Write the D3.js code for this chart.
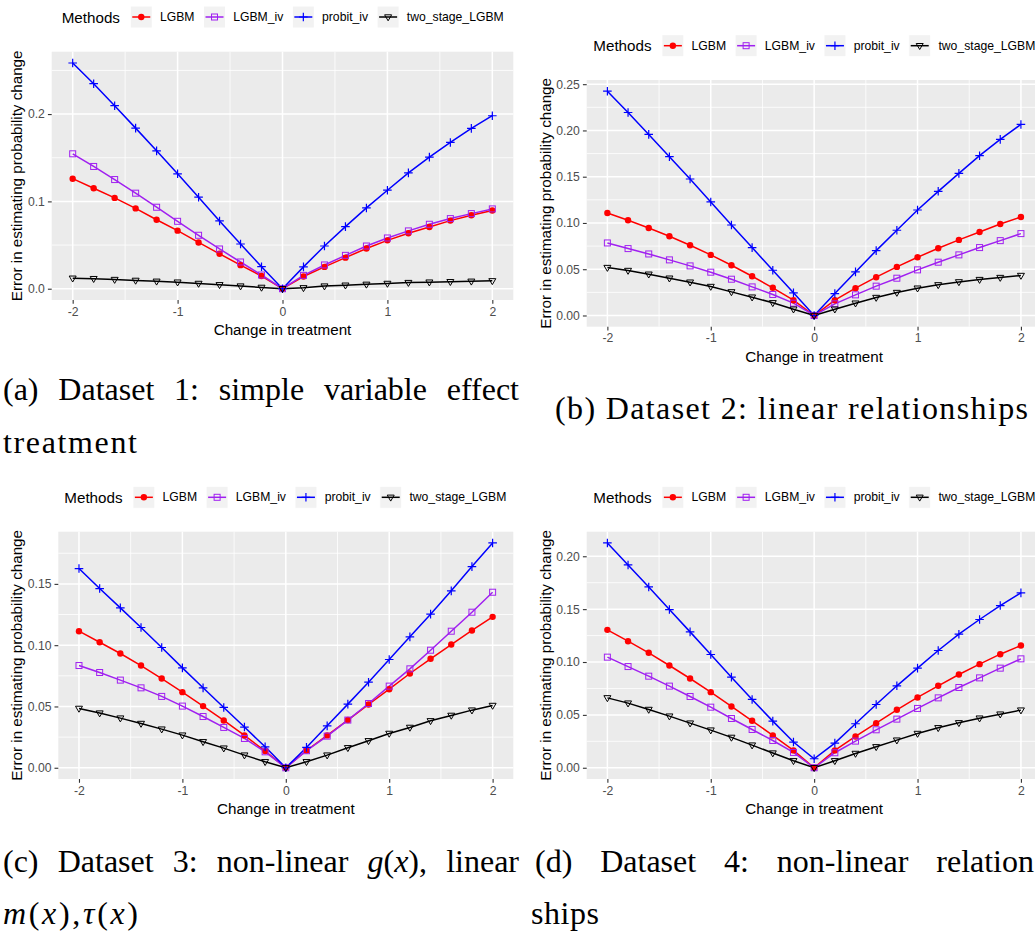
<!DOCTYPE html>
<html>
<head>
<meta charset="utf-8">
<script src="https://cdn.jsdelivr.net/npm/d3@7"></script>
<style>
	body { margin: 0; background: #fff; }
</style>
</head>
<body>
<svg id="fig" width="1035" height="939"></svg>
<script>
// change in treatment (x axis), shared by all four panels
const treatment = [-2, -1.8, -1.6, -1.4, -1.2, -1, -0.8, -0.6, -0.4, -0.2, 0, 0.2, 0.4, 0.6, 0.8, 1, 1.2, 1.4, 1.6, 1.8, 2];
const methods = ["LGBM", "LGBM_iv", "probit_iv", "two_stage_LGBM"];

// Dataset 1
const d1_LGBM = [0.126, 0.115, 0.104, 0.092, 0.079, 0.0665, 0.053, 0.040, 0.027, 0.0145, 0, 0.014, 0.025, 0.0356, 0.046, 0.0554, 0.0635, 0.0707, 0.078, 0.0841, 0.0895];
const d1_LGBM_iv = [0.1545, 0.140, 0.125, 0.1094, 0.0933, 0.0772, 0.0612, 0.0455, 0.0306, 0.0157, 0, 0.0153, 0.0272, 0.0382, 0.0489, 0.0581, 0.0662, 0.0738, 0.0803, 0.086, 0.0914];
const d1_probit_iv = [0.2585, 0.2348, 0.2096, 0.1839, 0.1579, 0.1316, 0.1048, 0.0776, 0.0512, 0.0252, 0, 0.025, 0.0489, 0.0711, 0.0925, 0.1128, 0.1327, 0.1507, 0.1675, 0.1836, 0.1981];
const d1_two_stage = [0.012, 0.0115, 0.0105, 0.0095, 0.0085, 0.0075, 0.006, 0.0045, 0.003, 0.0015, 0, 0.001, 0.003, 0.004, 0.005, 0.006, 0.007, 0.0075, 0.008, 0.0085, 0.009];

// Dataset 2
const d2_LGBM = [0.1108, 0.1029, 0.0946, 0.0856, 0.0759, 0.0655, 0.0543, 0.0424, 0.0299, 0.0165, 0, 0.0165, 0.0295, 0.0414, 0.0525, 0.0629, 0.0727, 0.0817, 0.0903, 0.0989, 0.1065];
const d2_LGBM_iv = [0.0784, 0.0723, 0.0665, 0.0601, 0.0536, 0.0468, 0.0392, 0.0309, 0.0227, 0.0133, 0, 0.0126, 0.0223, 0.0317, 0.0403, 0.0493, 0.0576, 0.0655, 0.0734, 0.0809, 0.0885];
const d2_probit_iv = [0.2424, 0.2194, 0.1957, 0.1716, 0.1475, 0.1227, 0.0978, 0.0734, 0.0489, 0.0245, 0, 0.0237, 0.0471, 0.0701, 0.0921, 0.114, 0.1342, 0.1536, 0.1727, 0.1903, 0.2065];
const d2_two_stage = [0.0518, 0.0486, 0.0446, 0.0403, 0.036, 0.0313, 0.0255, 0.0198, 0.0137, 0.0068, 0, 0.0068, 0.0133, 0.0194, 0.0248, 0.0295, 0.0331, 0.0363, 0.0388, 0.041, 0.0432];

// Dataset 3
const d3_LGBM = [0.1114, 0.1024, 0.0932, 0.0834, 0.0728, 0.0617, 0.0503, 0.0386, 0.0264, 0.0136, 0, 0.0141, 0.0264, 0.0389, 0.0516, 0.0641, 0.0769, 0.0889, 0.1005, 0.112, 0.1231];
const d3_LGBM_iv = [0.0834, 0.0777, 0.0715, 0.0652, 0.0582, 0.0503, 0.0418, 0.0329, 0.0239, 0.013, 0, 0.0139, 0.0258, 0.0389, 0.0524, 0.0666, 0.0807, 0.0959, 0.1114, 0.1269, 0.1432];
const d3_probit_iv = [0.1625, 0.1462, 0.1304, 0.1144, 0.0981, 0.0815, 0.0652, 0.0492, 0.0332, 0.0171, 0, 0.0166, 0.0342, 0.0519, 0.0698, 0.0883, 0.1068, 0.1253, 0.1443, 0.1641, 0.1834];
const d3_two_stage = [0.0484, 0.0446, 0.0405, 0.0361, 0.0315, 0.0266, 0.0212, 0.016, 0.0103, 0.0049, 0, 0.0049, 0.0103, 0.0163, 0.022, 0.028, 0.0329, 0.0383, 0.0427, 0.047, 0.0508];

// Dataset 4
const d4_LGBM = [0.1304, 0.1197, 0.1087, 0.0967, 0.0844, 0.0715, 0.058, 0.0444, 0.0306, 0.0164, 0, 0.0164, 0.0296, 0.0422, 0.0548, 0.0665, 0.0775, 0.0882, 0.098, 0.1074, 0.1156];
const d4_LGBM_iv = [0.1046, 0.0957, 0.0866, 0.0772, 0.0674, 0.0573, 0.0466, 0.0362, 0.0258, 0.0145, 0, 0.0142, 0.0252, 0.0359, 0.046, 0.0561, 0.0661, 0.0759, 0.085, 0.0942, 0.103];
const d4_probit_iv = [0.2126, 0.1918, 0.171, 0.1496, 0.1285, 0.1071, 0.0857, 0.0646, 0.0441, 0.0243, 0.0085, 0.0233, 0.0416, 0.0598, 0.0775, 0.0942, 0.1109, 0.1263, 0.1402, 0.1534, 0.1654];
const d4_two_stage = [0.0661, 0.0611, 0.0551, 0.0488, 0.0422, 0.0356, 0.0287, 0.0214, 0.0139, 0.0066, 0, 0.0066, 0.0135, 0.0198, 0.0261, 0.0324, 0.0378, 0.0425, 0.0469, 0.0507, 0.0545];

const xTicks = [-2, -1, 0, 1, 2];
const yTicks1 = [0, 0.1, 0.2];
const yTicks2 = [0, 0.05, 0.10, 0.15, 0.20, 0.25];
const yTicks3 = [0, 0.05, 0.10, 0.15];
const yTicks4 = [0, 0.05, 0.10, 0.15, 0.20];

const colors = { "LGBM": "#FF0000", "LGBM_iv": "#A020F0", "probit_iv": "#0000FF", "two_stage_LGBM": "#000000" };

const sansFont = "'Liberation Sans', Arial, sans-serif";
const serifFont = "'Liberation Serif', 'Times New Roman', serif";

const panels = [
	{ series: [d1_LGBM, d1_LGBM_iv, d1_probit_iv, d1_two_stage], yTicks: yTicks1, fmt: ".1f",
		left: 51.7, right: 513.3, top: 51.7, bottom: 300, yTitleX: 16, legendX: 61.7, legendY: 17, xLabY: 312, xTitleY: 329 },
	{ series: [d2_LGBM, d2_LGBM_iv, d2_probit_iv, d2_two_stage], yTicks: yTicks2, fmt: ".2f",
		left: 586.7, right: 1041.6, top: 80, bottom: 326.7, yTitleX: 545, legendX: 593.3, legendY: 45.7, xLabY: 338, xTitleY: 356 },
	{ series: [d3_LGBM, d3_LGBM_iv, d3_probit_iv, d3_two_stage], yTicks: yTicks3, fmt: ".2f",
		left: 58.3, right: 513.3, top: 531.7, bottom: 779, yTitleX: 16, legendX: 64.3, legendY: 497.3, xLabY: 790.7, xTitleY: 808 },
	{ series: [d4_LGBM, d4_LGBM_iv, d4_probit_iv, d4_two_stage], yTicks: yTicks4, fmt: ".2f",
		left: 586.7, right: 1041.6, top: 531.7, bottom: 779, yTitleX: 545, legendX: 593.3, legendY: 497.3, xLabY: 790.7, xTitleY: 808 }
];

const svg = d3.select("#fig");

function drawMarker(sel, method) {
	const c = colors[method];
	if (method === "LGBM") {
		sel.append("circle").attr("r", 3.2).attr("fill", c);
	} else if (method === "LGBM_iv") {
		sel.append("rect").attr("x", -3).attr("y", -3).attr("width", 6).attr("height", 6)
			.attr("fill", "none").attr("stroke", c).attr("stroke-width", 1);
	} else if (method === "probit_iv") {
		sel.append("path").attr("d", "M-4.3,0H4.3M0,-4.3V4.3")
			.attr("stroke", c).attr("stroke-width", 1.2);
	} else {
		sel.append("path").attr("d", "M-3.5,-2.2L3.5,-2.2L0,3.8Z")
			.attr("fill", "none").attr("stroke", c).attr("stroke-width", 1);
	}
}

panels.forEach(p => {
	const allVals = p.series.flat();
	const ymin = d3.min(allVals), ymax = d3.max(allVals);
	const pad = (ymax - ymin) * 0.05;

	const x = d3.scaleLinear().domain([-2.2, 2.2]).range([p.left, p.right]);
	const y = d3.scaleLinear().domain([ymin - pad, ymax + pad]).range([p.bottom, p.top]);

	const g = svg.append("g").style("font-family", sansFont);

	// panel background
	g.append("rect")
		.attr("x", p.left).attr("y", p.top)
		.attr("width", p.right - p.left).attr("height", p.bottom - p.top)
		.attr("fill", "#EBEBEB");

	// minor grid
	const yStep = p.yTicks[1] - p.yTicks[0];
	const yMinor = [p.yTicks[0] - yStep / 2].concat(p.yTicks.map(t => t + yStep / 2))
		.filter(v => v > y.domain()[0] && v < y.domain()[1]);
	const xMinor = [-1.5, -0.5, 0.5, 1.5];

	g.selectAll(".ymin").data(yMinor).enter().append("line")
		.attr("x1", p.left).attr("x2", p.right)
		.attr("y1", d => y(d)).attr("y2", d => y(d))
		.attr("stroke", "#fff").attr("stroke-width", 0.8);
	g.selectAll(".xmin").data(xMinor).enter().append("line")
		.attr("y1", p.top).attr("y2", p.bottom)
		.attr("x1", d => x(d)).attr("x2", d => x(d))
		.attr("stroke", "#fff").attr("stroke-width", 0.8);

	// major grid
	g.selectAll(".ymaj").data(p.yTicks).enter().append("line")
		.attr("x1", p.left).attr("x2", p.right)
		.attr("y1", d => y(d)).attr("y2", d => y(d))
		.attr("stroke", "#fff").attr("stroke-width", 1.5);
	g.selectAll(".xmaj").data(xTicks).enter().append("line")
		.attr("y1", p.top).attr("y2", p.bottom)
		.attr("x1", d => x(d)).attr("x2", d => x(d))
		.attr("stroke", "#fff").attr("stroke-width", 1.5);

	// axes
	const yAxis = g.append("g")
		.attr("transform", `translate(${p.left},0)`)
		.call(d3.axisLeft(y).tickValues(p.yTicks).tickFormat(d3.format(p.fmt)).tickSize(3.8).tickPadding(3));
	const xAxis = g.append("g")
		.attr("transform", `translate(0,${p.bottom})`)
		.call(d3.axisBottom(x).tickValues(xTicks).tickFormat(d => String(d)).tickSize(3.8).tickPadding(3));

	[yAxis, xAxis].forEach(a => {
		a.select(".domain").remove();
		a.selectAll(".tick line").attr("stroke", "#333333").attr("stroke-width", 1.1);
		a.selectAll(".tick text").attr("fill", "#4D4D4D").style("font-size", "12.2px")
			.style("font-family", sansFont);
	});
	xAxis.selectAll(".tick text").attr("dy", null)
		.attr("y", p.xLabY - p.bottom).attr("dominant-baseline", "central");

	// lines then points
	const line = d3.line().x((d, i) => x(treatment[i])).y(d => y(d));
	const clipId = "clip" + Math.round(p.left) + "_" + Math.round(p.top);
	g.append("clipPath").attr("id", clipId).append("rect")
		.attr("x", p.left).attr("y", p.top)
		.attr("width", p.right - p.left).attr("height", p.bottom - p.top);

	const plot = g.append("g").attr("clip-path", `url(#${clipId})`);
	p.series.forEach((s, k) => {
		plot.append("path").datum(s)
			.attr("d", line)
			.attr("fill", "none")
			.attr("stroke", colors[methods[k]])
			.attr("stroke-width", 1.5);
	});
	p.series.forEach((s, k) => {
		s.forEach((v, i) => {
			const m = plot.append("g").attr("transform", `translate(${x(treatment[i])},${y(v)})`);
			drawMarker(m, methods[k]);
		});
	});

	// axis titles
	g.append("text")
		.attr("x", (p.left + p.right) / 2).attr("y", p.xTitleY)
		.attr("text-anchor", "middle").attr("dominant-baseline", "central")
		.style("font-size", "15.2px")
		.text("Change in treatment");
	g.append("text")
		.attr("transform", `translate(${p.yTitleX},${(p.top + p.bottom) / 2}) rotate(-90)`)
		.attr("text-anchor", "middle").attr("dominant-baseline", "central")
		.style("font-size", "15.2px")
		.text("Error in estimating probability change");

	// legend on top
	const leg = g.append("g");
	const title = leg.append("text")
		.attr("x", p.legendX).attr("y", p.legendY)
		.attr("dominant-baseline", "central")
		.style("font-size", "15.2px")
		.text("Methods");
	let lx = p.legendX + title.node().getComputedTextLength() + 10.3;
	methods.forEach(mth => {
		const key = leg.append("g").attr("transform", `translate(${lx},${p.legendY})`);
		key.append("rect").attr("x", 0).attr("y", -11).attr("width", 22).attr("height", 22)
			.attr("fill", "#F2F2F2").attr("stroke", "#fff").attr("stroke-width", 1);
		key.append("line").attr("x1", 2).attr("x2", 20).attr("y1", 0).attr("y2", 0)
			.attr("stroke", colors[mth]).attr("stroke-width", 1.5);
		drawMarker(key.append("g").attr("transform", "translate(11,0)"), mth);
		const lab = leg.append("text")
			.attr("x", lx + 22 + 7.7).attr("y", p.legendY)
			.attr("dominant-baseline", "central")
			.style("font-size", "12.2px")
			.text(mth);
		lx += 22 + 7.7 + lab.node().getComputedTextLength() + 9;
	});
});

// captions
const cap = svg.append("g");

function capText(y) {
	return cap.append("text").attr("y", y)
		.style("font-family", serifFont)
		.style("font-size", "32px")
		.attr("fill", "#000");
}

function justify(words, x0, x1, y) {
	const nodes = words.map(w => {
		const t = capText(y);
		(Array.isArray(w) ? w : [[w, false]]).forEach(([s, it]) => {
			t.append("tspan").style("font-style", it ? "italic" : "normal").text(s);
		});
		return t;
	});
	const widths = nodes.map(n => n.node().getComputedTextLength());
	const gap = (x1 - x0 - d3.sum(widths)) / (words.length - 1);
	let cx = x0;
	nodes.forEach((n, i) => { n.attr("x", cx); cx += widths[i] + gap; });
}

function plainLine(parts, x0, width, y) {
	const t = capText(y).attr("x", x0)
		.attr("textLength", width).attr("lengthAdjust", "spacing");
	parts.forEach(([s, it]) => t.append("tspan").style("font-style", it ? "italic" : "normal").text(s));
}

justify(["(a)", "Dataset", "1:", "simple", "variable", "effect"], 3, 519, 400);
plainLine([["treatment", false]], 3, 134, 452.5);

plainLine([["(b) Dataset 2: linear relationships", false]], 555, 473, 419);

justify(["(c)", "Dataset", "3:", "non-linear", [["g", true], ["(", false], ["x", true], ["),", false]], "linear"], 3, 519, 872);
plainLine([["m", true], ["(", false], ["x", true], ["),", false], ["τ", true], ["(", false], ["x", true], [")", false]], 3, 135, 923.5);

justify(["(d)", "Dataset", "4:", "non-linear", "relation"], 535, 1034, 872);
plainLine([["ships", false]], 531, 68, 923.5);
</script>
</body>
</html>
